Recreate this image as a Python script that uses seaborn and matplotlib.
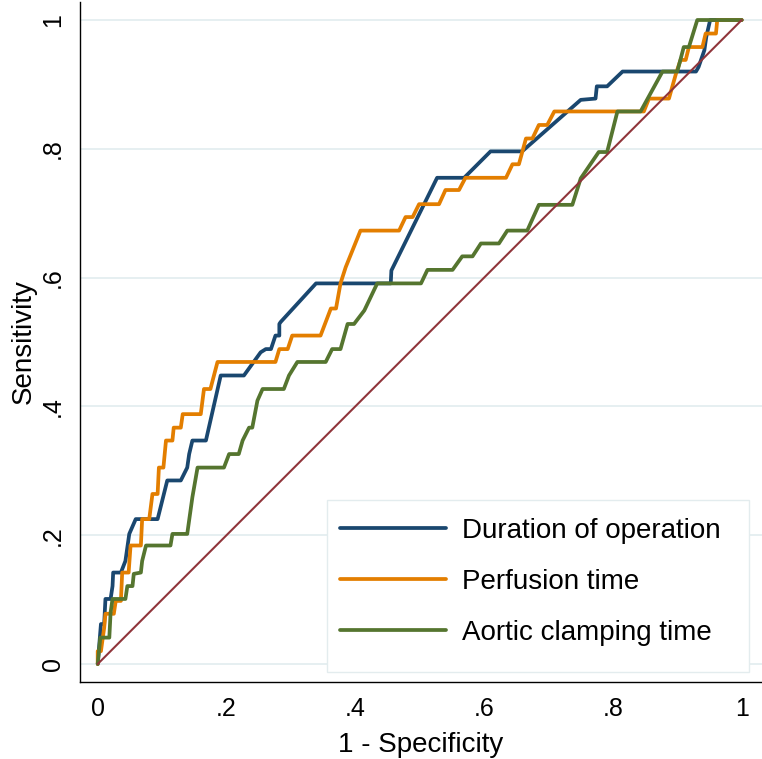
import pandas as pd
import matplotlib.pyplot as plt
import seaborn as sns
from matplotlib.patches import Rectangle

# ROC curves (1 - specificity, sensitivity)
dur_x = [0, 0.005, 0.010, 0.012, 0.020, 0.023, 0.024, 0.036, 0.043, 0.049, 0.059, 0.093, 0.108, 0.129, 0.139,
         0.142, 0.147, 0.168, 0.191, 0.227, 0.253, 0.261, 0.269, 0.276, 0.282, 0.282, 0.284, 0.339, 0.455, 0.456,
         0.527, 0.569, 0.610, 0.659, 0.750, 0.773, 0.775, 0.791, 0.815, 0.929, 0.933, 0.942, 0.945, 0.951, 1.0]
dur_y = [0, 0.062, 0.062, 0.101, 0.101, 0.121, 0.142, 0.142, 0.160, 0.202, 0.225, 0.225, 0.285, 0.285, 0.305,
         0.326, 0.347, 0.347, 0.448, 0.448, 0.484, 0.489, 0.489, 0.510, 0.510, 0.528, 0.531, 0.591, 0.591, 0.611,
         0.755, 0.755, 0.796, 0.796, 0.876, 0.878, 0.897, 0.897, 0.920, 0.920, 0.927, 0.953, 0.974, 1.0, 1.0]

per_x = [0, 0, 0.005, 0.010, 0.012, 0.025, 0.028, 0.036, 0.038, 0.048, 0.051, 0.067, 0.069, 0.080, 0.085,
         0.093, 0.095, 0.102, 0.106, 0.116, 0.118, 0.129, 0.132, 0.160, 0.165, 0.175, 0.186, 0.276, 0.282, 0.295,
         0.302, 0.346, 0.362, 0.370, 0.377, 0.385, 0.408, 0.468, 0.478, 0.489, 0.499, 0.530, 0.540, 0.561, 0.571,
         0.634, 0.644, 0.654, 0.665, 0.675, 0.685, 0.698, 0.709, 0.848, 0.856, 0.887, 0.898, 0.905, 0.913, 0.918,
         0.939, 0.944, 0.960, 0.962, 1.0]
per_y = [0, 0.020, 0.020, 0.056, 0.078, 0.078, 0.098, 0.098, 0.142, 0.142, 0.184, 0.184, 0.225, 0.225, 0.264,
         0.264, 0.305, 0.305, 0.347, 0.347, 0.367, 0.367, 0.388, 0.388, 0.427, 0.427, 0.469, 0.469, 0.489, 0.489,
         0.510, 0.510, 0.552, 0.552, 0.591, 0.616, 0.673, 0.673, 0.694, 0.694, 0.714, 0.714, 0.736, 0.736, 0.755,
         0.755, 0.776, 0.776, 0.816, 0.816, 0.837, 0.837, 0.858, 0.858, 0.878, 0.878, 0.917, 0.938, 0.938, 0.958,
         0.958, 0.979, 0.979, 1.0, 1.0]

aor_x = [0, 0.004, 0.018, 0.020, 0.023, 0.043, 0.046, 0.054, 0.056, 0.067, 0.069, 0.075, 0.113, 0.116, 0.139,
         0.147, 0.155, 0.196, 0.204, 0.219, 0.225, 0.235, 0.240, 0.248, 0.256, 0.289, 0.297, 0.310, 0.354, 0.364,
         0.377, 0.388, 0.398, 0.414, 0.434, 0.502, 0.512, 0.551, 0.566, 0.582, 0.595, 0.623, 0.636, 0.667, 0.685,
         0.737, 0.750, 0.778, 0.791, 0.807, 0.843, 0.877, 0.900, 0.910, 0.918, 0.931, 1.0]
aor_y = [0, 0.041, 0.041, 0.080, 0.101, 0.101, 0.121, 0.121, 0.140, 0.142, 0.160, 0.184, 0.184, 0.202, 0.202,
         0.259, 0.305, 0.305, 0.326, 0.326, 0.347, 0.367, 0.367, 0.409, 0.427, 0.427, 0.448, 0.469, 0.469, 0.489,
         0.489, 0.528, 0.528, 0.549, 0.591, 0.591, 0.612, 0.612, 0.633, 0.633, 0.653, 0.653, 0.673, 0.673, 0.713,
         0.713, 0.754, 0.795, 0.795, 0.858, 0.858, 0.920, 0.920, 0.958, 0.958, 1.0, 1.0]

ref_x = [0, 1]
ref_y = [0, 1]

nomes = ['Duration of operation', 'Perfusion time', 'Aortic clamping time']
cores = ['#1a476f', '#e37e00', '#55752f']
ticks = [0, 0.2, 0.4, 0.6, 0.8, 1]
tick_labels = ['0', '.2', '.4', '.6', '.8', '1']

dados = pd.concat([
    pd.DataFrame({'fpr': dur_x, 'sens': dur_y, 'curva': nomes[0]}),
    pd.DataFrame({'fpr': per_x, 'sens': per_y, 'curva': nomes[1]}),
    pd.DataFrame({'fpr': aor_x, 'sens': aor_y, 'curva': nomes[2]}),
], ignore_index=True)

sns.set_style('white')
plt.rcParams['font.family'] = ['Liberation Sans', 'DejaVu Sans']
plt.rcParams['text.color'] = 'black'
plt.rcParams['axes.labelcolor'] = 'black'
plt.rcParams['xtick.color'] = 'black'
plt.rcParams['ytick.color'] = 'black'

fig = plt.figure(figsize=(7.62, 7.59), dpi=100)
ax = fig.add_axes([0.105, 0.1014, 0.895, 0.896])

sns.lineplot(data=dados, x='fpr', y='sens', hue='curva', palette=dict(zip(nomes, cores)),
             sort=False, estimator=None, linewidth=2.7, ax=ax)
ax.plot(ref_x, ref_y, color='#90353b', linewidth=1.5, zorder=3)

ax.set_xlim(-0.0275, 1.0315)
ax.set_ylim(-0.028, 1.028)
ax.set_xticks(ticks, tick_labels)
ax.set_yticks(ticks, tick_labels)
plt.setp(ax.get_yticklabels(), rotation=90, va='center')
ax.tick_params(axis='both', length=8, width=1, color='black', labelsize=18, pad=3, direction='out')
ax.yaxis.grid(True, color='#e6eff1', linewidth=1.4)
ax.set_axisbelow(True)
sns.despine(ax=ax)
ax.spines['left'].set_linewidth(1)
ax.spines['bottom'].set_linewidth(1)
ax.spines['left'].set_color('black')
ax.spines['bottom'].set_color('black')

ax.set_xlabel('1 - Specificity', fontsize=20, labelpad=8)
ax.set_ylabel('Sensitivity', fontsize=20, labelpad=3)

# caixa da legenda
ax.add_patch(Rectangle((0.362, 0.0147), 0.619, 0.253, transform=ax.transAxes,
                       facecolor='white', edgecolor='#e3ecee', linewidth=1, zorder=4))
handles, labels = ax.get_legend_handles_labels()
leg = ax.legend(handles, labels, loc='upper left', bbox_to_anchor=(0.361, 0.262), frameon=False,
                fontsize=20, handlelength=3.8, handletextpad=0.6, labelspacing=0.9, borderpad=0)
leg.set_zorder(5)
for linha in leg.get_lines():
    linha.set_linewidth(2.7)

plt.savefig('out.png', dpi=100)
